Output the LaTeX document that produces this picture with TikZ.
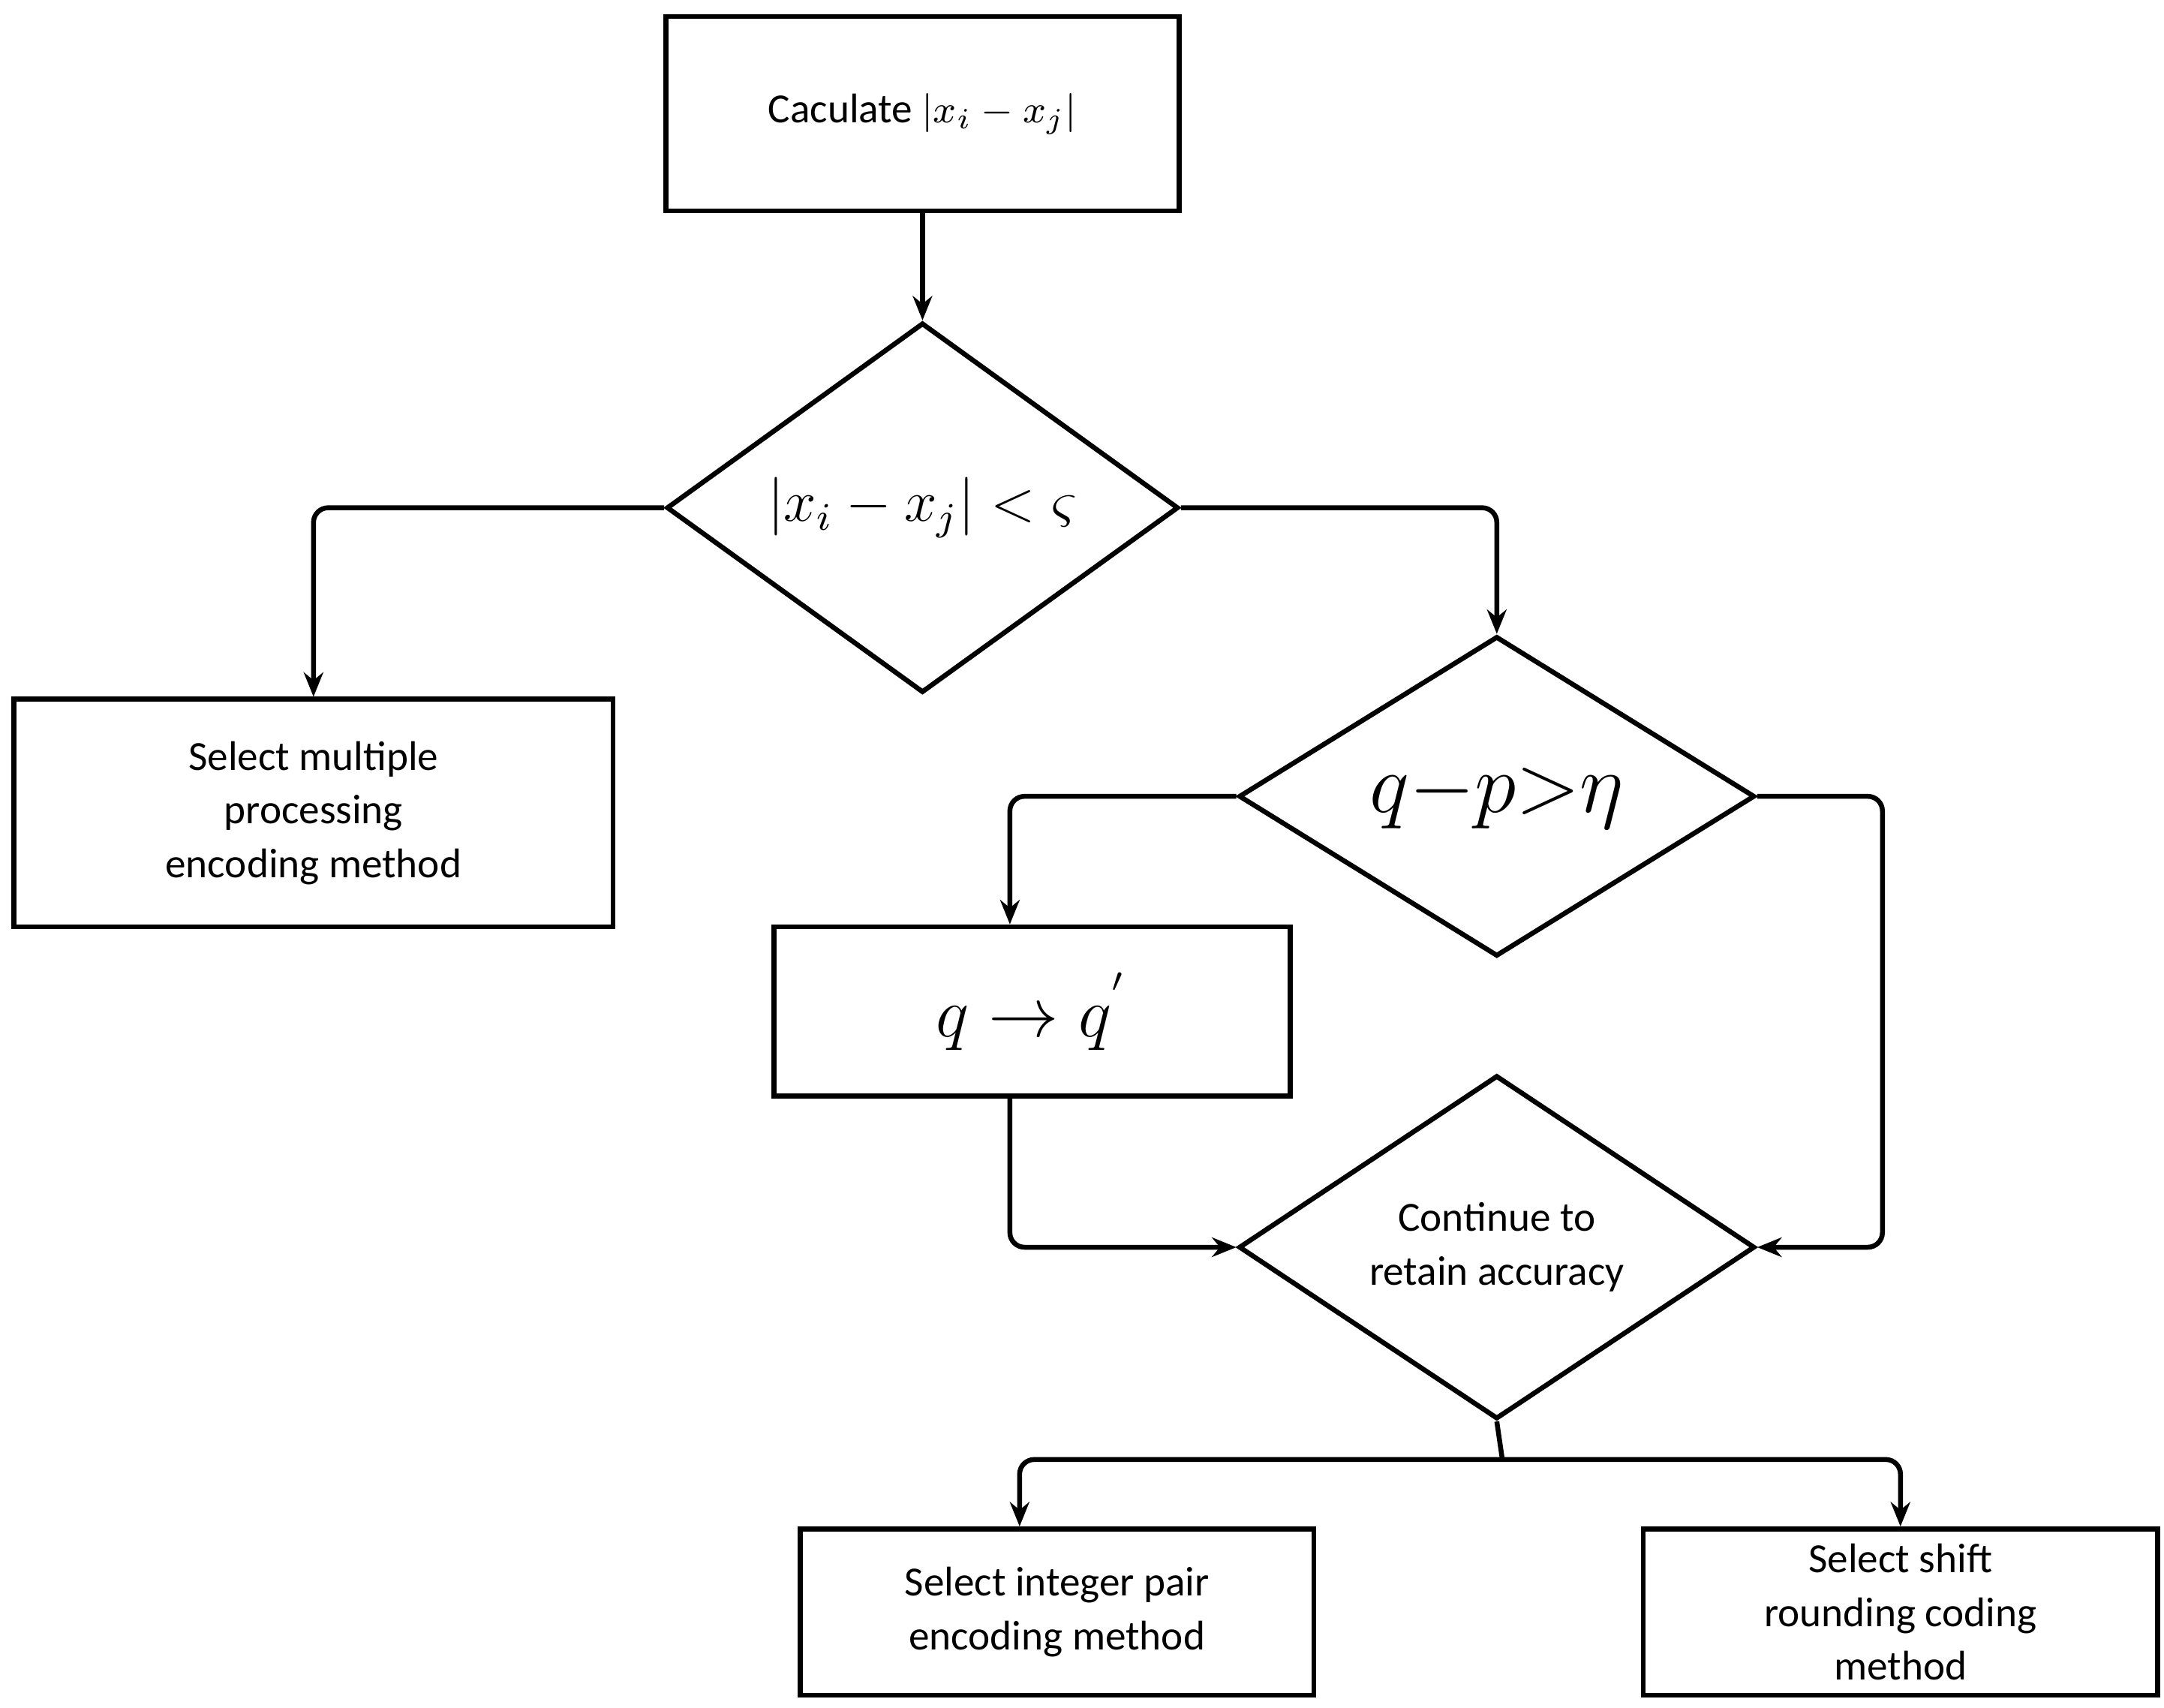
\documentclass[tikz,border=0pt]{standalone}
\usepackage{amsmath}
\usepackage{fontspec}
\setmainfont{Carlito}
\usetikzlibrary{shapes.geometric,arrows.meta}
\tikzset{
  box/.style={draw,line width=1pt,inner sep=0pt,align=center,font=\fontsize{8.5}{11}\selectfont},
  dia/.style={draw,diamond,line width=1pt,inner sep=0pt,minimum width=3.69cm,minimum height=2.28cm,align=center,font=\fontsize{8.5}{11}\selectfont},
  arr/.style={line width=1pt,rounded corners=3pt,-{Stealth[length=5pt,width=4pt]}}
}
\begin{document}
\begin{tikzpicture}
    \useasboundingbox (0,0) rectangle (15.6,-12.31);
    \node[box,minimum width=3.7cm,minimum height=1.4cm] (calc) at (6.65,-0.82) {Caculate $\lvert x_i-x_j\rvert$};
    \node[dia,font=\fontsize{12}{14}\selectfont] (d1) at (6.65,-3.66) {$\lvert x_i-x_j\rvert<\varsigma$};
    \node[box,minimum width=4.32cm,minimum height=1.64cm] (multi) at (2.26,-5.86) {Select multiple\\processing\\encoding method};
    \node[dia,minimum width=3.72cm,font=\fontsize{16}{18}\selectfont] (d2) at (10.79,-5.74) {$q{-}p{>}\eta$};
    \node[box,minimum width=3.72cm,minimum height=1.22cm,font=\fontsize{15}{18}\selectfont] (qq) at (7.44,-7.29) {$q\rightarrow q^{'}$};
    \node[dia,minimum width=3.72cm] (d3) at (10.79,-8.99) {Continue to\\retain accuracy};
    \node[box,minimum width=3.7cm,minimum height=1.2cm] (pair) at (7.62,-11.62) {Select integer pair\\encoding method};
    \node[box,minimum width=3.71cm,minimum height=1.2cm] (shift) at (13.70,-11.62) {Select shift\\rounding coding\\method};
    \coordinate (split) at (10.83,-10.52);
    \draw[arr] (calc) -- (d1);
    \draw[arr] (d1.west) -| (multi.north);
    \draw[arr] (d1.east) -| (d2.north);
    \draw[arr] (d2.west) -| ([xshift=-0.16cm]qq.north);
    \draw[arr] (d2.east) -- (13.57,-5.74) |- (d3.east);
    \draw[arr] ([xshift=-0.16cm]qq.south) |- (d3.west);
    \draw[line width=1pt] (d3.south) -- (split);
    \draw[arr] (split) -| ([xshift=-0.27cm]pair.north);
    \draw[arr] (split) -| (shift.north);
\end{tikzpicture}
\end{document}
